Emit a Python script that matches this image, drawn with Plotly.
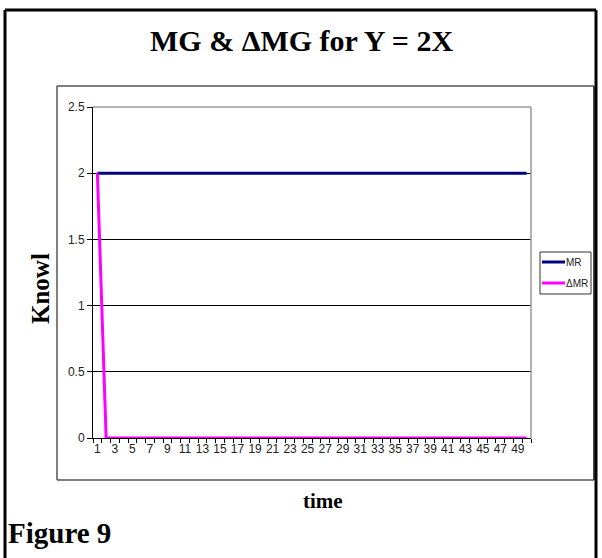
import plotly.graph_objects as go

time = list(range(1, 51))
mr = [2] * 50
dmr = [2] + [0] * 49
series_names = ["MR", "\u0394MR"]
series_colors = ["#000080", "#FF00FF"]
x_tick_labels = [str(t) for t in time]
y_ticks = [0, 0.5, 1, 1.5, 2, 2.5]

W, H = 602, 558
L, R, T, B = 93, 531, 107, 438

def px(x):
    return (x - L) / (R - L)

def py(y):
    return (B - y) / (B - T)

fig = go.Figure()
for name, vals, col in zip(series_names, [mr, dmr], series_colors):
    fig.add_trace(go.Scatter(x=time, y=vals, mode="lines", name=name,
                             line=dict(color=col, width=3), showlegend=False))

def seg(x0, y0, x1, y1, color, width):
    return dict(type="line", xref="paper", yref="paper",
                x0=px(x0), x1=px(x1), y0=py(y0), y1=py(y1),
                line=dict(color=color, width=width))

shapes = [
    # chart area
    seg(57, 86, 594, 86, "#555555", 1.5),
    seg(57, 86, 57, 480, "#555555", 1.5),
    seg(57, 480, 594, 480, "#555555", 1.5),
    seg(594, 86, 594, 480, "#444444", 2),
    # outer frame
    seg(5, 10, 596, 10, "black", 3),
    seg(5, 10, 5, 560, "black", 3),
    seg(596, 10, 596, 560, "black", 3),
    # plot area border top/right
    dict(type="line", xref="paper", yref="paper", x0=0, x1=1, y0=1, y1=1,
         line=dict(color="#999999", width=1.5)),
    dict(type="line", xref="paper", yref="paper", x0=1, x1=1, y0=0, y1=1,
         line=dict(color="#999999", width=1.5)),
    # legend box
    dict(type="rect", xref="paper", yref="paper", x0=px(540), x1=px(591), y0=py(252), y1=py(294),
         line=dict(color="#333333", width=1), fillcolor="white"),
]

annotations = [
    dict(text="<b>MG &amp; \u0394MG for Y = 2X</b>", xref="paper", yref="paper",
         x=px(301), y=py(40), showarrow=False, xanchor="center", yanchor="middle",
         font=dict(family="Liberation Serif", size=30, color="black")),
    dict(text="<b>Knowl</b>", xref="paper", yref="paper", x=px(40), y=py(289),
         showarrow=False, textangle=-90, xanchor="center", yanchor="middle",
         font=dict(family="Liberation Serif", size=25, color="black")),
    dict(text="<b>time</b>", xref="paper", yref="paper", x=px(323), y=py(501),
         showarrow=False, xanchor="center", yanchor="middle",
         font=dict(family="Liberation Serif", size=21, color="black")),
    dict(text="<b>Figure 9</b>", xref="paper", yref="paper", x=px(6), y=py(533),
         showarrow=False, xanchor="left", yanchor="middle",
         font=dict(family="Liberation Serif", size=29, color="black")),
]

legend_rows = [262, 283]
for name, col, yrow in zip(series_names, series_colors, legend_rows):
    shapes.append(dict(type="line", xref="paper", yref="paper",
                       x0=px(542), x1=px(565), y0=py(yrow), y1=py(yrow),
                       line=dict(color=col, width=3)))
    annotations.append(dict(text=name, xref="paper", yref="paper", x=px(564), y=py(yrow),
                            showarrow=False, xanchor="left", yanchor="middle",
                            font=dict(family="Liberation Sans", size=10, color="#222222")))

fig.update_layout(
    width=W, height=H,
    margin=dict(l=L, r=W - R, t=T, b=H - B, pad=0, autoexpand=False),
    paper_bgcolor="white", plot_bgcolor="white",
    showlegend=False,
    shapes=shapes,
    annotations=annotations,
)

fig.update_xaxes(
    type="linear", range=[0.5, 50.5],
    tickmode="array", tickvals=time[::2], ticktext=x_tick_labels[::2],
    showgrid=False, zeroline=False,
    showline=True, linecolor="black", linewidth=1,
    ticks="", tickfont=dict(family="Liberation Sans", size=12, color="#222222"),
    minor=dict(tickmode="array", tickvals=[t + 0.5 for t in [0] + time], ticks="outside",
               ticklen=4, tickcolor="black", showgrid=False),
)
fig.update_yaxes(
    range=[0, 2.5], tickmode="array", tickvals=y_ticks,
    ticktext=["0", "0.5", "1", "1.5", "2", "2.5"],
    showgrid=True, gridcolor="black", gridwidth=1, zeroline=False,
    showline=True, linecolor="black", linewidth=1,
    ticks="outside", ticklen=5, tickcolor="black",
    tickfont=dict(family="Liberation Sans", size=12, color="#222222"),
)

fig.write_html("out.html")
